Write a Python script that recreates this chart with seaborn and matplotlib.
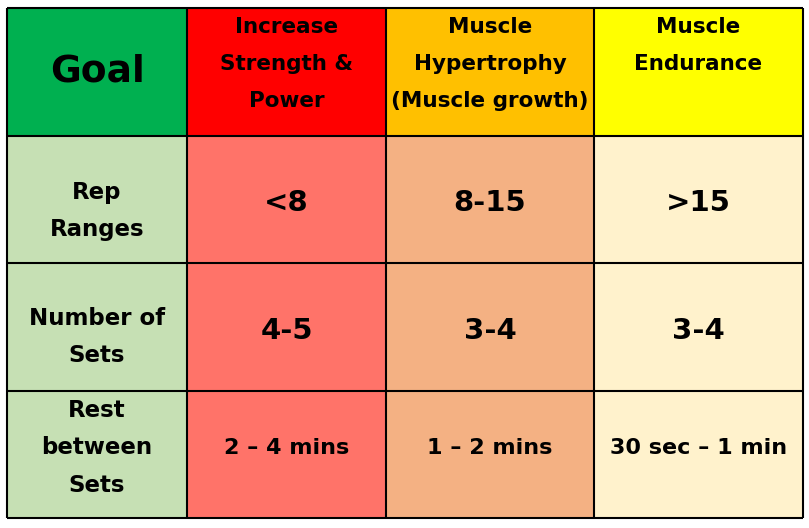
import numpy as np
import matplotlib.pyplot as plt
import seaborn as sns
from matplotlib.colors import ListedColormap

# table content ---------------------------------------------------------------
goal_label = "Goal"
goals = [
    "Increase\nStrength &\nPower",
    "Muscle\nHypertrophy\n(Muscle growth)",
    "Muscle\nEndurance",
]
measures = ["Rep\nRanges", "Number of\nSets", "Rest\nbetween\nSets"]
rep_ranges = ["<8", "8-15", ">15"]
num_sets = ["4-5", "3-4", "3-4"]
rest_times = ["2 – 4 mins", "1 – 2 mins", "30 sec – 1 min"]

header_colors = ["#00B050", "#FF0000", "#FFC000", "#FFFF00"]
body_colors = ["#C6E0B4", "#FF7369", "#F4B183", "#FFF2CC"]

# layout ----------------------------------------------------------------------
col_widths = [180, 199, 208, 209]
label_shift = [0.09, 0.08, -0.05]
value_shift = [0.03, 0.03, -0.05]
value_size = [21, 21, 16]

sns.set_theme(style="white")
plt.rcParams["font.family"] = ["DejaVu Sans"]
plt.rcParams["text.color"] = "black"

n_rows = 1 + len(measures)
idx = np.array([[0, 1, 2, 3]] + [[4, 5, 6, 7]] * len(measures))
grid = np.repeat(idx, col_widths, axis=1)
cmap = ListedColormap(header_colors + body_colors)

fig = plt.figure(figsize=(8.09, 5.28), dpi=100)
ax = fig.add_axes([7 / 809, 10 / 528, 796 / 809, 510 / 528])
sns.heatmap(
    grid, cmap=cmap, vmin=-0.5, vmax=7.5, cbar=False, ax=ax,
    xticklabels=False, yticklabels=False, rasterized=True,
)

edges = np.concatenate([[0], np.cumsum(col_widths)])
centers = (edges[:-1] + edges[1:]) / 2
ax.vlines(edges, 0, n_rows, color="black", lw=1.5, clip_on=False)
ax.hlines(np.arange(n_rows + 1), 0, edges[-1], color="black", lw=1.5, clip_on=False)

# header row
ax.text(centers[0], 0.5, goal_label, ha="center", va="center",
        fontsize=27, fontweight="bold", color="black")
for j, g in enumerate(goals):
    ax.text(centers[j + 1], 0.07, g, ha="center", va="top", color="black",
            fontsize=15.5, fontweight="bold", linespacing=2.05)

# body rows
rows = [rep_ranges, num_sets, rest_times]
for i, (m, vals) in enumerate(zip(measures, rows)):
    y = i + 1.5
    ax.text(centers[0], y + label_shift[i], m, ha="center", va="center",
            fontsize=16.5, fontweight="bold", linespacing=1.8, color="black")
    for j, v in enumerate(vals):
        ax.text(centers[j + 1], y + value_shift[i], v, ha="center", va="center",
                fontsize=value_size[i], fontweight="bold", color="black")

fig.savefig("out.png", dpi=100)
